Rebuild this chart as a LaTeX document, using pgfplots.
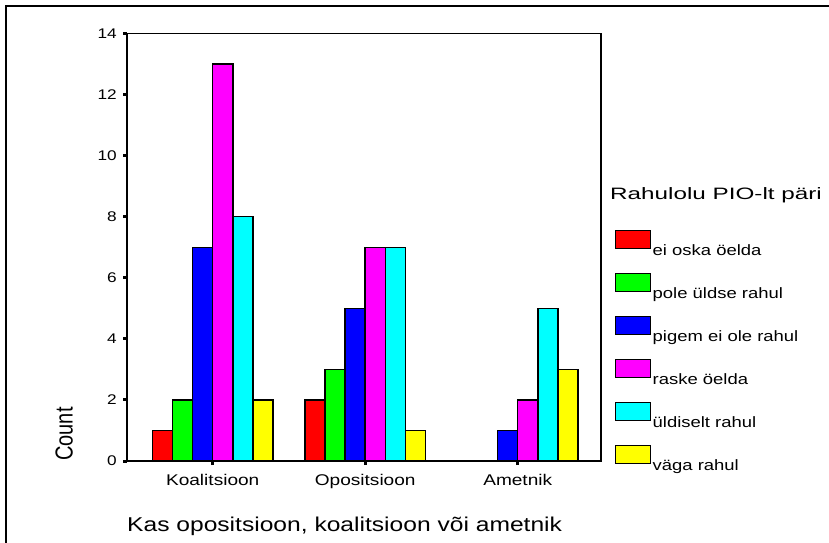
\documentclass[border=0pt]{standalone}
\usepackage{pgfplots}
\pgfplotsset{compat=1.18}
\usepackage{fontspec}
\setmainfont{Liberation Sans}[FakeStretch=1.23]
\newfontfamily\plainfont{Liberation Sans}
\newfontfamily\widefont{Liberation Sans}[FakeStretch=1.47]
\definecolor{cR}{RGB}{255,0,0}
\definecolor{cG}{RGB}{0,255,0}
\definecolor{cB}{RGB}{0,0,255}
\definecolor{cM}{RGB}{255,0,255}
\definecolor{cC}{RGB}{0,255,255}
\definecolor{cY}{RGB}{255,255,0}
\begin{document}
\begin{tikzpicture}
\useasboundingbox (0bp,0bp) rectangle (829bp,-543bp);
\draw[line width=2bp] (6bp,-543bp) -- (6bp,-5.5bp) -- (829bp,-5.5bp);
\begin{axis}[
  at={(127bp,-461bp)}, anchor=south west,
  scale only axis, width=474bp, height=427.5bp,
  xmin=-0.562, xmax=2.546, ymin=0, ymax=14,
  ytick={0,2,...,14},
  xtick={0,1,2}, xticklabels={Koalitsioon,Opositsioon,Ametnik},
  ybar=0pt, bar width=20.1bp,
  axis line style={line width=1.8bp},
  tick pos=left, tick align=outside, major tick length=4bp,
  tick style={line width=3bp, black},
  /pgf/number format/assume math mode=true,
  yticklabel style={font=\fontsize{14bp}{16bp}\selectfont, inner sep=0pt, anchor=east, xshift=-6bp},
  xticklabel style={font=\fontsize{15.5bp}{18bp}\selectfont, inner sep=0pt, anchor=north, yshift=-9bp},
  legend style={at={(1.02954,0.54035)}, anchor=north west, draw=none, fill=none,
    inner sep=0pt, outer sep=0pt, row sep=14bp, column sep=1.5bp,
    font=\fontsize{15bp}{18bp}\selectfont,
    nodes={inner sep=0pt, text depth=4bp}},
  legend cell align=left,
  every axis plot post/.append style={
    legend image code/.code={\draw[#1, line width=1.2bp] (0bp,3bp) rectangle (35bp,21bp);}},
]
\addplot[fill=cR, draw=black, line width=1.5bp] coordinates {(0,1) (1,2)};
\addplot[fill=cG, draw=black, line width=1.5bp] coordinates {(0,2) (1,3)};
\addplot[fill=cB, draw=black, line width=1.5bp] coordinates {(0,7) (1,5) (2,1)};
\addplot[fill=cM, draw=black, line width=1.5bp] coordinates {(0,13) (1,7) (2,2)};
\addplot[fill=cC, draw=black, line width=1.5bp] coordinates {(0,8) (1,7) (2,5)};
\addplot[fill=cY, draw=black, line width=1.5bp] coordinates {(0,2) (1,1) (2,3)};
\legend{ei oska öelda, pole üldse rahul, pigem ei ole rahul, raske öelda, üldiselt rahul, väga rahul}
\end{axis}
\node[anchor=base west, inner sep=0pt, font=\fontsize{20bp}{24bp}\selectfont] at (127bp,-531.7bp) {Kas opositsioon, koalitsioon või ametnik};
\node[anchor=base west, inner sep=0pt, font=\widefont\fontsize{16.5bp}{20bp}\selectfont] at (610bp,-199bp) {Rahulolu PIO-lt päri};
\node[rotate=90, anchor=base, inner sep=0pt, font=\plainfont\fontsize{20bp}{24bp}\selectfont] at (72.7bp,-434bp) {\scalebox{1}[1.23]{Count}};
\end{tikzpicture}
\end{document}
